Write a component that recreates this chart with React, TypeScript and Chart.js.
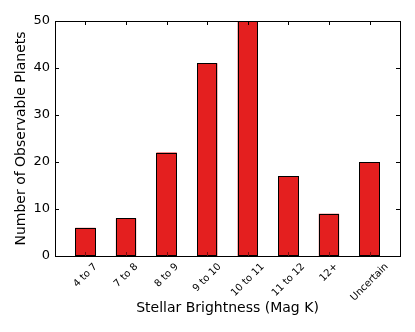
import React, { useEffect, useRef } from "react";
import { Chart, registerables } from "chart.js";

Chart.register(...registerables);

const categories = ["4 to 7", "7 to 8", "8 to 9", "9 to 10", "10 to 11", "11 to 12", "12+", "Uncertain"];
const planetCounts = [6, 8, 22, 41, 50, 17, 9, 20];
const yTicks = [0, 10, 20, 30, 40, 50];

const FONT = "'DejaVu Sans', sans-serif";

const framePlugin = {
  id: "frameTicks",
  afterDatasetsDraw(chart: any) {
    const { ctx, chartArea } = chart;
    const { left, right, top, bottom } = chartArea;
    const xs = chart.scales.x;
    const ys = chart.scales.y;
    ctx.save();
    ctx.strokeStyle = "#000";
    ctx.lineWidth = 1;
    // crisp bar outlines from the bar elements
    const meta = chart.getDatasetMeta(0);
    meta.data.forEach((bar: any) => {
      const p = bar.getProps(["x", "y", "base", "width"], true);
      const x0 = Math.round(p.x - p.width / 2) + 0.5;
      const x1 = Math.round(p.x + p.width / 2) - 0.5;
      const y0 = Math.round(p.y) + 0.5;
      const y1 = Math.round(p.base) - 0.5;
      ctx.strokeRect(x0, y0, x1 - x0, y1 - y0);
    });
    const tl = 4;
    // bottom ticks sit inside bars: draw them a darker red
    ctx.beginPath();
    categories.forEach((_, i) => {
      const x = Math.round(xs.getPixelForValue(i)) + 0.5;
      ctx.moveTo(x, bottom);
      ctx.lineTo(x, bottom - tl);
    });
    ctx.strokeStyle = "#7a1010";
    ctx.stroke();
    ctx.strokeStyle = "#000";
    ctx.beginPath();
    categories.forEach((_, i) => {
      const x = Math.round(xs.getPixelForValue(i)) + 0.5;
      ctx.moveTo(x, top);
      ctx.lineTo(x, top + tl);
    });
    yTicks.forEach((v) => {
      const y = Math.round(ys.getPixelForValue(v)) + 0.5;
      ctx.moveTo(left, y);
      ctx.lineTo(left + tl, y);
      ctx.moveTo(right, y);
      ctx.lineTo(right - tl, y);
    });
    ctx.stroke();
    ctx.strokeRect(Math.round(left) + 0.5, Math.round(top) + 0.5, Math.round(right - left), Math.round(bottom - top));
    ctx.restore();
  },
  afterDraw(chart: any) {
    const { ctx, chartArea } = chart;
    const xs = chart.scales.x;
    ctx.save();
    ctx.fillStyle = "#000";
    const fs = 10;
    ctx.font = `${fs}px ${FONT}`;
    ctx.textAlign = "center";
    ctx.textBaseline = "middle";
    const c = Math.SQRT1_2;
    categories.forEach((lab, i) => {
      const w = ctx.measureText(lab).width;
      const h = fs * 1.15;
      const bh = (w + h) * c;
      const cx = xs.getPixelForValue(i);
      const cy = chartArea.bottom + 5 + bh / 2;
      ctx.save();
      ctx.translate(cx, cy);
      ctx.rotate(-Math.PI / 4);
      ctx.fillText(lab, 0, 0);
      ctx.restore();
    });
    ctx.restore();
  },
};

export default function App() {
  const ref = useRef<HTMLCanvasElement>(null);
  useEffect(() => {
    if (!ref.current) return;
    Chart.defaults.color = "#000";
    Chart.defaults.font.family = FONT;
    const chart = new Chart(ref.current, {
      type: "bar",
      data: {
        datasets: [
          {
            data: planetCounts.map((v, i) => ({ x: i, y: v })),
            backgroundColor: "#e41f1f",
            borderWidth: 0,
            barPercentage: 0.5,
            categoryPercentage: 1,
          },
        ],
      },
      options: {
        responsive: false,
        animation: false,
        layout: { padding: { top: 21, right: 15, left: 0, bottom: 0 } },
        plugins: { legend: { display: false }, tooltip: { enabled: false } },
        scales: {
          x: {
            type: "linear",
            offset: false,
            min: -0.75,
            max: 7.75,
            grid: { display: false },
            border: { display: false },
            ticks: { display: false },
            title: {
              display: true,
              text: "Stellar Brightness (Mag K)",
              font: { size: 14, family: FONT },
              padding: { top: 0, bottom: 15 },
            },
            afterFit(scale: any) {
              scale.height = 76;
            },
          },
          y: {
            min: 0,
            max: 50,
            grid: { display: false, drawTicks: false },
            border: { display: false },
            ticks: { stepSize: 10, padding: 5, font: { size: 13, family: FONT } },
            title: {
              display: true,
              text: "Number of Observable Planets",
              font: { size: 14, family: FONT },
              padding: { top: 13, bottom: 0 },
            },
            afterFit(scale: any) {
              scale.width = 55;
            },
          },
        },
      },
      plugins: [framePlugin],
    } as any);
    return () => chart.destroy();
  }, []);
  return (
    <div style={{ position: "fixed", left: 0, top: 0, width: 415, height: 332, background: "#fff" }}>
      <canvas ref={ref} width={415} height={332} style={{ display: "block" }} />
    </div>
  );
}
